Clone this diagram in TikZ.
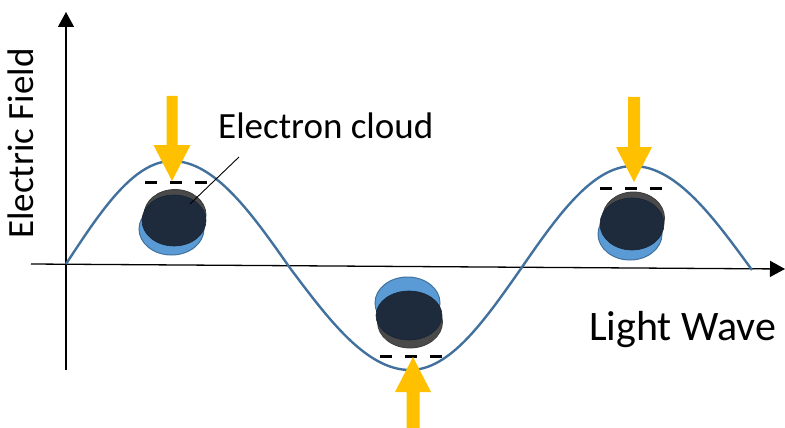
\documentclass[tikz,border=0pt]{standalone}
\usepackage{fontspec}
\setmainfont{Carlito}
\usetikzlibrary{arrows.meta}

\definecolor{wavecol}{RGB}{65,113,156}
\definecolor{cloudblue}{RGB}{91,155,213}
\definecolor{cloudnavy}{RGB}{29,43,61}
\definecolor{cloudgray}{RGB}{74,74,74}
\definecolor{pulse}{RGB}{255,192,0}

\tikzset{
  axis/.style={line width=1.3pt, draw=black, -{Triangle[length=15pt,width=16pt]}},
  wave/.style={line width=2.4pt, draw=wavecol},
  rimblue/.style={fill=cloudblue, draw=wavecol, line width=1pt},
  rimgray/.style={fill=cloudgray, draw=cloudgray!80!black, line width=0.8pt},
  core/.style={fill=cloudnavy, draw=cloudnavy!85!black, line width=0.6pt},
  charges/.style={line width=3pt, draw=black, dash pattern=on 12pt off 13pt},
  pulsearrow/.style={fill=pulse, draw=none},
  label/.style={inner sep=0pt, text=black},
  leader/.style={line width=0.9pt, draw=black}
}

\begin{document}
\begin{tikzpicture}[x=1pt, y=-1pt]
\useasboundingbox (0,0) rectangle (785,428);

% axes
\coordinate (ybot) at (66,370);
\coordinate (ytop) at (66,12);
\coordinate (xleft) at (31,264);
\coordinate (xright) at (785,269);
\draw[axis] (ybot) -- (ytop);
\draw[axis] (xleft) -- (xright);

% the light wave
\draw[wave] (66,264) sin (172,161) cos (290,268) sin (410,370)
            cos (520,270) sin (633,166) cos (752,270);

% electron cloud at the first crest
\path[rimblue] (171.5,229) ellipse [x radius=32.5pt, y radius=26pt];
\path[rimgray] (175,215) ellipse [x radius=31pt, y radius=25.5pt];
\path[core] (174,220.5) ellipse [x radius=32pt, y radius=25.5pt];
\draw[charges] (145,182) -- (210,182);

% electron cloud at the trough
\path[rimgray] (410,322) ellipse [x radius=32.5pt, y radius=26pt];
\path[rimblue] (407.5,303) ellipse [x radius=32.5pt, y radius=26pt];
\path[core] (409,315.5) ellipse [x radius=33pt, y radius=24.5pt];
\draw[charges] (380,356) -- (446,356);

% electron cloud at the second crest
\path[rimblue] (630,234) ellipse [x radius=32pt, y radius=26pt];
\path[rimgray] (633.5,218) ellipse [x radius=31pt, y radius=26pt];
\path[core] (632,224) ellipse [x radius=32pt, y radius=26pt];
\draw[charges] (600,188) -- (665,188);

% incoming pulses
\path[pulsearrow] (166.5,96) -- (177.5,96) -- (177.5,145) -- (190.5,145)
  -- (172,181) -- (153.5,145) -- (166.5,145) -- cycle;
\path[pulsearrow] (406.5,428) -- (419.5,428) -- (419.5,392) -- (431,392)
  -- (413,357) -- (395,392) -- (406.5,392) -- cycle;
\path[pulsearrow] (628,97) -- (640,97) -- (640,147) -- (652,147)
  -- (634,182) -- (616,147) -- (628,147) -- cycle;

% labels
\node[label, rotate=90, anchor=base] (efield) at (33,143.5)
  {\fontsize{37}{41}\selectfont Electric Field};
\node[label, anchor=base west] (cloudlbl) at (218,138)
  {\fontsize{37}{41}\selectfont Electron cloud};
\node[label, anchor=base west] (wavelbl) at (589,340)
  {\fontsize{42}{46}\selectfont Light Wave};

% leader from the label to the cloud
\coordinate (leadstart) at (239,157);
\coordinate (leadend) at (190,204);
\draw[leader] (leadstart) -- (leadend);
\end{tikzpicture}
\end{document}
